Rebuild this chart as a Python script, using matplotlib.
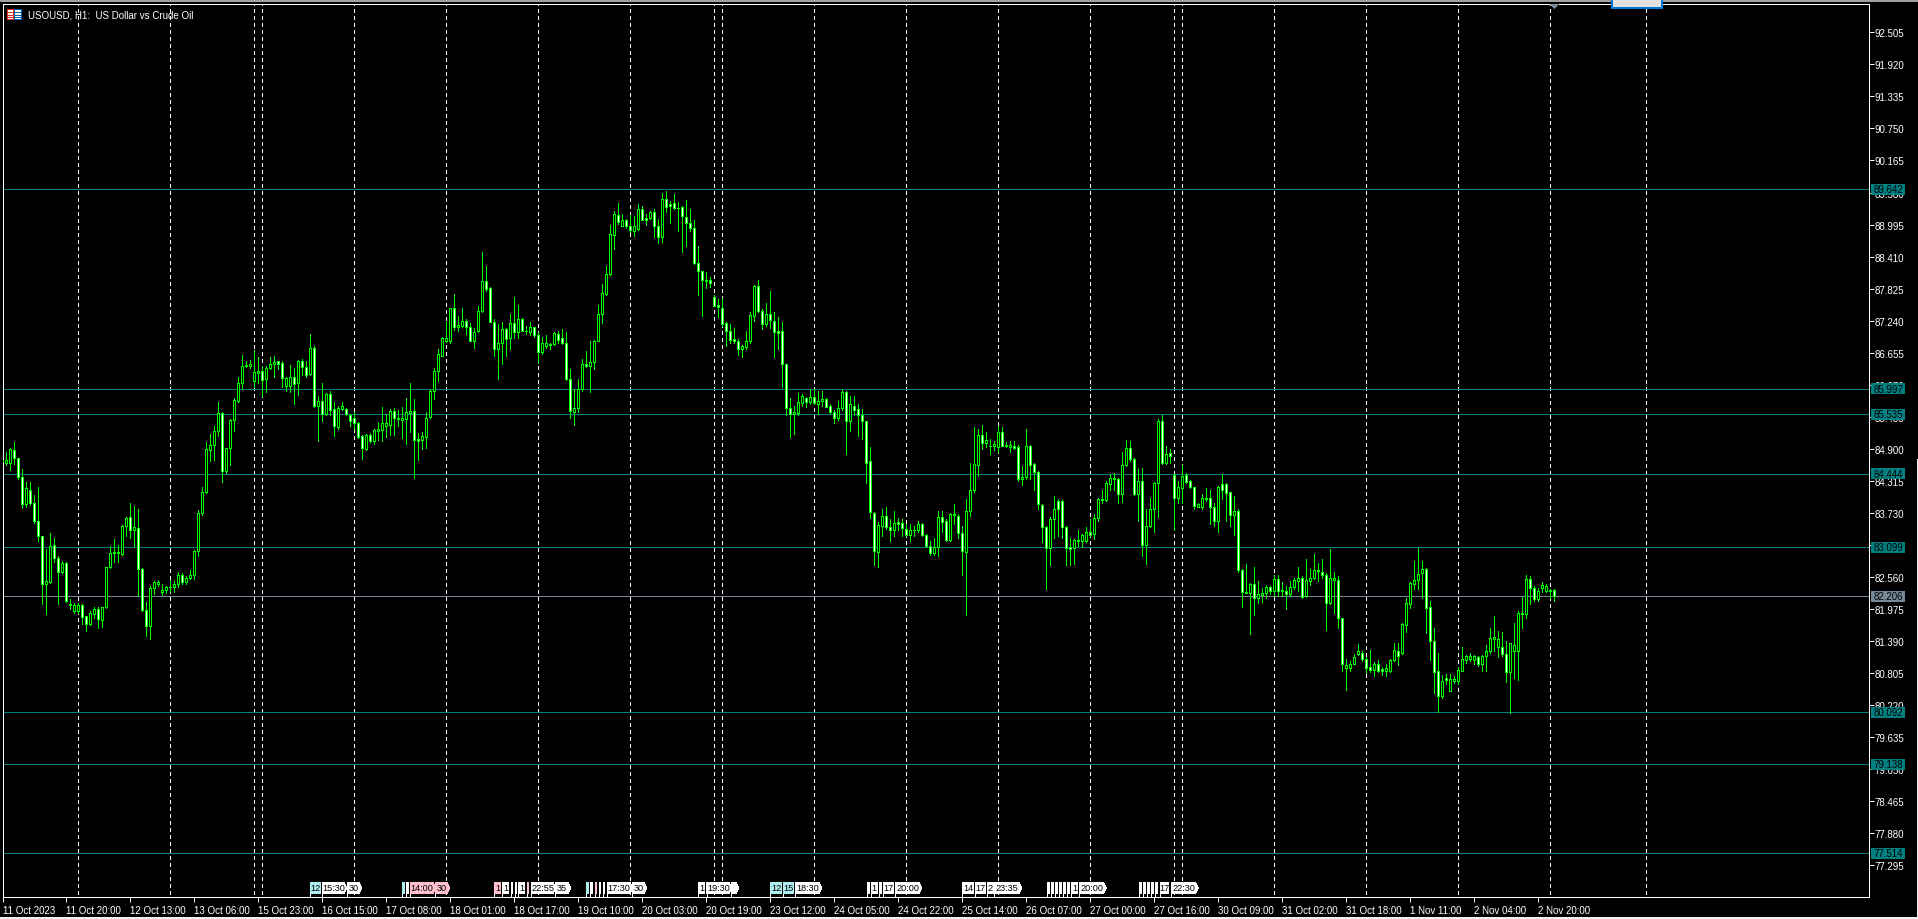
import numpy as np
import matplotlib
matplotlib.use("Agg")
import matplotlib.pyplot as plt
from matplotlib.patches import Polygon, Rectangle
from matplotlib.transforms import Affine2D

plt.rcParams['font.family'] = ['Liberation Sans', 'DejaVu Sans']

W, H = 1918, 920

# hourly candles (first bar is 11 Oct 2023)
opens = [
    84.67, 84.64, 84.65, 84.88, 84.73, 84.38, 83.90, 84.15, 83.92, 83.59,
    83.30, 82.43, 82.47, 83.15, 82.90, 82.66, 82.81, 82.07, 81.93, 81.93,
    82.05, 81.84, 81.70, 81.88, 81.98, 81.78, 82.01, 82.74, 82.99, 83.01,
    82.98, 83.49, 83.65, 83.41, 83.45, 82.71, 81.95, 81.67, 82.35, 82.43,
    82.28, 82.33, 82.37, 82.38, 82.43, 82.60, 82.46, 82.55, 82.60, 83.03,
    83.72, 84.12, 84.88, 84.97, 85.23, 85.55, 84.50, 84.91, 85.43, 85.78,
    86.11, 86.41, 86.42, 86.13, 86.29, 86.32, 86.18, 86.37, 86.44, 86.50,
    86.46, 86.04, 86.04, 86.22, 86.10, 86.50, 86.39, 86.27, 86.75, 85.69,
    85.77, 85.54, 85.90, 85.62, 85.29, 85.62, 85.62, 85.52, 85.47, 85.38,
    85.13, 84.90, 85.15, 85.05, 85.23, 85.25, 85.32, 85.34, 85.59, 85.47,
    85.43, 85.44, 85.55, 85.59, 85.08, 85.07, 85.12, 85.49, 85.95, 86.33,
    86.60, 86.87, 86.86, 87.48, 87.13, 87.15, 87.24, 87.12, 86.87, 87.05,
    87.42, 87.96, 87.83, 87.22, 86.72, 86.83, 87.09, 86.92, 87.19, 87.03,
    87.27, 87.06, 87.04, 87.12, 86.97, 86.66, 86.78, 86.80, 86.81, 87.00,
    86.92, 86.84, 86.17, 85.57, 85.65, 86.00, 86.44, 86.41, 86.48, 86.87,
    87.36, 87.73, 88.09, 88.81, 89.17, 88.97, 89.08, 88.96, 88.88, 88.91,
    89.27, 89.11, 89.11, 89.22, 88.96, 88.77, 89.47, 89.37, 89.38, 89.30,
    89.31, 89.14, 89.02, 88.94, 88.29, 88.14, 87.98, 87.98, 87.68, 87.53,
    87.48, 87.19, 87.05, 86.91, 86.87, 86.73, 86.76, 86.86, 87.33, 87.87,
    87.42, 87.17, 87.37, 87.24, 87.05, 87.05, 86.44, 85.64, 85.54, 85.55,
    85.74, 85.82, 85.75, 85.84, 85.72, 85.77, 85.81, 85.69, 85.58, 85.46,
    85.64, 85.93, 85.41, 85.69, 85.62, 85.52, 85.40, 84.67, 83.73, 83.01,
    83.50, 83.68, 83.47, 83.41, 83.57, 83.54, 83.44, 83.33, 83.41, 83.41,
    83.52, 83.33, 83.13, 83.00, 83.11, 83.65, 83.58, 83.24, 83.71, 83.68,
    83.36, 83.02, 83.77, 84.14, 84.61, 85.16, 85.01, 84.96, 84.95, 84.93,
    85.20, 84.97, 84.94, 84.96, 84.93, 84.35, 84.39, 84.96, 84.62, 84.48,
    83.88, 83.47, 83.09, 83.62, 83.95, 83.94, 83.47, 83.10, 83.09, 83.24,
    83.22, 83.22, 83.38, 83.35, 83.63, 83.97, 83.97, 84.26, 84.36, 84.34,
    84.08, 84.61, 84.91, 84.71, 84.08, 84.31, 83.14, 83.49, 83.81, 84.27,
    85.40, 84.64, 84.82, 84.42, 84.00, 84.18, 84.42, 84.31, 84.20, 83.84,
    83.84, 83.98, 84.00, 83.83, 83.59, 84.25, 84.25, 84.11, 83.70, 83.76,
    82.69, 82.29, 82.27, 82.43, 82.17, 82.23, 82.27, 82.37, 82.31, 82.52,
    82.32, 82.31, 82.25, 82.38, 82.49, 82.55, 82.21, 82.49, 82.54, 82.67,
    82.66, 82.60, 82.09, 82.51, 82.50, 81.81, 80.90, 80.89, 80.97, 81.16,
    81.18, 81.07, 80.91, 80.86, 80.97, 80.88, 80.85, 80.85, 81.05, 81.20,
    81.17, 81.69, 82.07, 82.44, 82.51, 82.63, 82.70, 82.01, 81.40, 80.84,
    80.38, 80.71, 80.48, 80.66, 80.67, 80.85, 81.05, 81.06, 81.05, 81.09,
    80.97, 81.11, 81.20, 81.42, 81.29, 81.29, 81.16, 80.83, 81.21, 81.21,
    81.88, 81.88, 82.52, 82.36, 82.15, 82.36, 82.31, 82.32, 82.32,
]
closes = [
    84.69, 84.69, 84.90, 84.73, 84.38, 83.90, 84.18, 83.92, 83.59, 83.30,
    82.43, 82.49, 83.13, 82.90, 82.66, 82.81, 82.13, 82.04, 82.05, 82.05,
    81.83, 81.71, 81.90, 81.98, 81.79, 82.01, 82.74, 82.99, 83.01, 82.99,
    83.49, 83.63, 83.41, 83.47, 82.71, 81.95, 81.67, 82.35, 82.46, 82.46,
    82.33, 82.37, 82.38, 82.43, 82.60, 82.46, 82.55, 82.60, 83.03, 83.72,
    84.12, 84.89, 84.97, 85.23, 85.55, 84.49, 84.91, 85.43, 85.79, 86.11,
    86.41, 86.43, 86.44, 86.30, 86.32, 86.16, 86.37, 86.44, 86.48, 86.44,
    86.19, 86.19, 86.21, 86.08, 86.50, 86.40, 86.25, 86.75, 85.69, 85.77,
    85.54, 85.90, 85.60, 85.31, 85.64, 85.69, 85.53, 85.41, 85.37, 85.12,
    84.91, 85.15, 85.05, 85.24, 85.26, 85.38, 85.38, 85.59, 85.47, 85.44,
    85.47, 85.57, 85.59, 85.07, 85.05, 85.13, 85.47, 85.96, 86.32, 86.64,
    86.92, 86.92, 87.48, 87.13, 87.16, 87.24, 87.12, 86.87, 87.04, 87.42,
    87.96, 87.82, 87.22, 86.73, 86.83, 87.09, 86.90, 87.19, 87.03, 87.27,
    87.06, 87.05, 87.12, 86.97, 86.66, 86.83, 86.83, 86.81, 87.01, 86.89,
    86.84, 86.17, 85.59, 85.64, 86.00, 86.44, 86.41, 86.49, 86.87, 87.36,
    87.74, 88.10, 88.82, 89.18, 89.04, 89.07, 88.96, 88.90, 88.97, 89.27,
    89.08, 89.08, 89.22, 88.96, 88.77, 89.47, 89.32, 89.34, 89.29, 89.29,
    89.16, 89.02, 88.94, 88.29, 88.14, 87.98, 87.97, 87.93, 87.51, 87.49,
    87.18, 87.05, 86.89, 86.87, 86.73, 86.77, 86.87, 87.34, 87.87, 87.42,
    87.17, 87.37, 87.26, 87.03, 87.02, 86.44, 85.64, 85.54, 85.57, 85.75,
    85.87, 85.75, 85.84, 85.74, 85.78, 85.81, 85.67, 85.57, 85.46, 85.64,
    85.93, 85.41, 85.71, 85.61, 85.52, 85.40, 84.65, 83.74, 83.03, 83.51,
    83.68, 83.47, 83.41, 83.54, 83.52, 83.45, 83.33, 83.41, 83.42, 83.52,
    83.33, 83.13, 83.00, 83.11, 83.65, 83.57, 83.24, 83.71, 83.69, 83.36,
    83.04, 83.76, 84.15, 84.62, 85.15, 85.01, 85.06, 84.95, 84.99, 85.20,
    84.96, 84.95, 84.97, 84.92, 84.35, 84.39, 84.96, 84.61, 84.48, 83.89,
    83.47, 83.09, 83.62, 83.81, 83.81, 83.47, 83.09, 83.08, 83.24, 83.22,
    83.33, 83.38, 83.33, 83.63, 83.98, 83.98, 84.27, 84.36, 84.34, 84.08,
    84.61, 84.91, 84.71, 84.08, 84.31, 83.14, 83.49, 83.81, 84.27, 85.40,
    84.64, 84.81, 84.76, 84.00, 84.20, 84.40, 84.30, 84.20, 83.85, 83.89,
    84.00, 84.00, 83.83, 83.59, 84.20, 84.15, 84.09, 83.70, 83.76, 82.69,
    82.28, 82.27, 82.43, 82.18, 82.25, 82.26, 82.38, 82.30, 82.52, 82.31,
    82.30, 82.25, 82.37, 82.50, 82.55, 82.19, 82.50, 82.55, 82.68, 82.68,
    82.60, 82.09, 82.55, 82.55, 81.81, 80.97, 80.96, 80.98, 81.09, 81.20,
    81.06, 80.90, 80.86, 80.97, 80.85, 80.85, 80.89, 81.05, 81.22, 81.12,
    81.70, 82.09, 82.45, 82.51, 82.61, 82.70, 82.00, 81.40, 80.83, 80.38,
    80.67, 80.68, 80.69, 80.70, 80.86, 81.06, 81.11, 81.11, 81.11, 80.97,
    81.11, 81.20, 81.44, 81.47, 81.42, 81.15, 80.83, 81.35, 81.32, 81.91,
    81.91, 82.52, 82.35, 82.15, 82.30, 82.41, 82.39, 82.31, 82.21,
]
highs = [
    84.69, 84.84, 84.91, 85.02, 84.74, 84.53, 84.30, 84.29, 84.05, 84.20,
    83.31, 83.07, 83.36, 83.28, 82.95, 82.86, 82.83, 82.16, 82.08, 82.08,
    82.07, 81.85, 81.93, 82.01, 82.01, 82.02, 82.75, 83.12, 83.25, 83.14,
    83.51, 83.65, 83.92, 83.86, 83.81, 82.72, 82.10, 82.40, 82.48, 82.51,
    82.43, 82.40, 82.51, 82.49, 82.65, 82.63, 82.58, 82.69, 83.05, 83.78,
    84.20, 85.02, 85.17, 85.31, 85.75, 85.57, 84.91, 85.44, 85.83, 86.21,
    86.61, 86.51, 86.53, 86.70, 86.57, 86.42, 86.42, 86.57, 86.59, 86.51,
    86.51, 86.21, 86.43, 86.37, 86.53, 86.54, 86.51, 87.00, 86.77, 85.87,
    86.10, 85.92, 85.96, 85.75, 85.69, 85.76, 85.64, 85.54, 85.57, 85.39,
    85.16, 85.17, 85.18, 85.26, 85.39, 85.66, 85.54, 85.63, 85.64, 85.60,
    85.66, 85.82, 86.10, 85.81, 85.18, 85.20, 85.57, 85.99, 86.37, 86.73,
    86.95, 87.22, 87.48, 87.73, 87.33, 87.47, 87.27, 87.19, 87.10, 87.51,
    88.49, 88.23, 87.85, 87.27, 87.18, 87.21, 87.10, 87.36, 87.67, 87.53,
    87.29, 87.15, 87.21, 87.13, 87.03, 86.94, 86.97, 86.84, 87.03, 87.06,
    87.09, 87.03, 86.36, 86.00, 86.17, 86.54, 86.69, 86.87, 86.89, 87.53,
    87.91, 88.23, 88.99, 89.25, 89.39, 89.18, 89.10, 89.19, 89.16, 89.37,
    89.34, 89.19, 89.25, 89.27, 89.10, 89.58, 89.60, 89.43, 89.55, 89.40,
    89.34, 89.44, 89.28, 89.07, 88.60, 88.15, 88.12, 88.03, 87.70, 87.64,
    87.65, 87.21, 87.18, 87.10, 86.91, 86.80, 87.05, 87.40, 87.89, 87.98,
    87.45, 87.56, 87.79, 87.40, 87.31, 87.22, 86.45, 85.82, 85.69, 85.92,
    85.90, 85.84, 85.99, 85.99, 85.96, 85.95, 85.82, 85.72, 85.60, 85.78,
    85.99, 85.96, 85.87, 85.86, 85.72, 85.63, 85.41, 84.93, 83.74, 83.56,
    83.81, 83.83, 83.62, 83.76, 83.63, 83.62, 83.53, 83.53, 83.50, 83.58,
    83.54, 83.35, 83.22, 83.28, 83.77, 83.77, 83.62, 83.72, 83.90, 83.71,
    83.49, 83.98, 84.64, 85.30, 85.27, 85.33, 85.20, 85.08, 85.04, 85.32,
    85.29, 85.02, 85.05, 85.05, 84.97, 84.59, 85.26, 84.97, 84.65, 84.50,
    83.89, 83.50, 83.65, 84.03, 83.98, 83.97, 83.49, 83.28, 83.25, 83.41,
    83.35, 83.47, 83.62, 83.71, 84.01, 84.14, 84.32, 84.44, 84.46, 84.36,
    84.84, 85.07, 85.05, 84.73, 84.53, 84.55, 83.80, 84.01, 84.29, 85.44,
    85.52, 84.96, 84.90, 84.44, 84.31, 84.61, 84.45, 84.33, 84.21, 83.92,
    84.08, 84.18, 84.15, 83.92, 84.22, 84.44, 84.28, 84.12, 84.03, 83.81,
    82.71, 82.80, 82.45, 82.75, 82.49, 82.35, 82.41, 82.40, 82.60, 82.60,
    82.46, 82.40, 82.49, 82.55, 82.74, 82.58, 82.88, 82.71, 82.98, 82.82,
    82.89, 82.63, 83.07, 82.65, 82.58, 81.82, 81.06, 81.03, 81.15, 81.34,
    81.21, 81.09, 81.23, 81.01, 81.04, 80.92, 80.97, 81.06, 81.35, 81.35,
    81.72, 82.17, 82.46, 82.85, 83.09, 82.85, 82.72, 82.13, 81.63, 81.17,
    80.77, 80.79, 80.79, 80.76, 80.91, 81.29, 81.14, 81.18, 81.14, 81.12,
    81.14, 81.32, 81.62, 81.84, 81.58, 81.55, 81.39, 81.36, 81.72, 81.93,
    82.20, 82.60, 82.57, 82.40, 82.35, 82.46, 82.43, 82.34, 82.34,
]
lows = [
    84.67, 84.61, 84.52, 84.62, 84.35, 83.82, 83.84, 83.87, 83.54, 83.21,
    82.07, 81.88, 82.45, 82.84, 82.07, 82.63, 82.11, 81.98, 81.91, 81.90,
    81.70, 81.58, 81.68, 81.82, 81.63, 81.65, 81.99, 82.72, 82.83, 82.83,
    82.97, 83.30, 83.27, 83.13, 82.22, 81.93, 81.49, 81.43, 82.25, 82.39,
    82.24, 82.27, 82.28, 82.28, 82.37, 82.43, 82.44, 82.52, 82.52, 82.95,
    83.70, 84.09, 84.67, 84.70, 85.14, 84.30, 84.46, 84.61, 85.23, 85.75,
    86.00, 86.39, 86.38, 86.02, 86.11, 85.87, 85.94, 86.36, 86.21, 86.36,
    86.02, 85.96, 85.94, 85.71, 85.89, 86.24, 86.21, 86.25, 85.67, 85.05,
    85.40, 85.52, 85.52, 85.14, 85.27, 85.60, 85.52, 85.32, 85.26, 85.10,
    84.71, 84.88, 85.03, 84.99, 85.07, 85.05, 85.12, 85.15, 85.15, 85.32,
    85.10, 84.99, 85.20, 84.37, 84.70, 84.90, 84.91, 85.47, 85.81, 86.13,
    86.59, 86.85, 86.84, 87.07, 87.06, 87.12, 87.00, 86.86, 86.74, 87.04,
    87.40, 87.79, 87.21, 86.60, 86.17, 86.44, 86.60, 86.73, 86.93, 86.92,
    87.05, 87.00, 86.98, 86.95, 86.46, 86.63, 86.75, 86.72, 86.80, 86.84,
    86.81, 86.16, 85.46, 85.33, 85.57, 85.96, 86.39, 85.94, 86.36, 86.86,
    87.20, 87.71, 88.07, 88.55, 89.01, 88.96, 88.93, 88.85, 88.79, 88.90,
    89.07, 88.99, 89.10, 88.76, 88.66, 88.68, 89.23, 89.02, 89.27, 88.88,
    88.50, 88.61, 88.88, 88.27, 87.70, 87.33, 87.83, 87.85, 87.50, 87.30,
    87.15, 86.78, 86.84, 86.84, 86.61, 86.57, 86.73, 86.84, 87.24, 87.39,
    87.09, 87.15, 87.10, 86.57, 86.72, 86.02, 85.51, 85.12, 85.17, 85.51,
    85.69, 85.67, 85.72, 85.71, 85.54, 85.68, 85.66, 85.55, 85.37, 85.43,
    85.60, 84.81, 85.23, 85.51, 85.14, 85.08, 84.28, 83.64, 82.77, 82.75,
    83.31, 83.44, 83.22, 83.30, 83.42, 83.31, 83.31, 83.22, 83.30, 83.38,
    83.31, 83.10, 82.97, 82.96, 82.95, 83.38, 83.22, 83.22, 83.53, 83.28,
    82.60, 81.87, 83.68, 84.11, 84.41, 84.90, 84.93, 84.81, 84.87, 84.84,
    84.95, 84.93, 84.85, 84.90, 84.32, 84.24, 84.35, 84.35, 84.14, 83.80,
    83.19, 82.34, 82.78, 83.27, 83.31, 83.27, 82.78, 82.77, 82.80, 83.13,
    83.10, 83.19, 83.31, 83.25, 83.59, 83.92, 83.95, 84.14, 84.14, 83.92,
    83.93, 84.58, 84.68, 84.05, 83.59, 82.95, 82.80, 83.47, 83.38, 83.65,
    84.62, 84.62, 84.65, 83.42, 83.91, 83.92, 84.28, 84.18, 83.81, 83.83,
    83.80, 83.95, 83.53, 83.50, 83.39, 83.98, 83.59, 83.50, 83.33, 82.65,
    82.02, 82.27, 81.52, 81.87, 82.08, 82.10, 82.18, 82.25, 82.22, 82.22,
    82.22, 81.98, 82.21, 82.34, 82.31, 82.18, 82.19, 82.41, 82.52, 82.49,
    82.55, 81.59, 82.07, 81.91, 81.63, 80.85, 80.49, 80.85, 80.97, 81.14,
    81.03, 80.81, 80.83, 80.76, 80.82, 80.77, 80.76, 80.82, 81.03, 80.96,
    81.15, 81.56, 82.00, 82.34, 82.34, 82.18, 81.54, 81.04, 80.45, 80.09,
    80.35, 80.61, 80.47, 80.62, 80.61, 80.84, 80.99, 81.03, 80.97, 80.94,
    80.85, 80.85, 81.18, 81.21, 81.09, 81.12, 80.65, 80.07, 80.71, 80.68,
    81.62, 81.81, 82.07, 82.13, 82.13, 82.29, 82.28, 82.18, 82.13,
]

# horizontal levels drawn on the chart and the current bid
levels = [89.642, 85.997, 85.535, 84.444, 83.099, 80.092, 79.138, 77.514]
bid = 82.206

# bars with a vertical event line
event_bars = [18, 41, 62, 64, 87, 110, 133, 156, 177, 179, 202, 225, 248,
              271, 292, 294, 317, 340, 363, 386, 410]

price_ticks = [92.505, 91.920, 91.335, 90.750, 90.165, 89.580, 88.995, 88.410,
               87.825, 87.240, 86.655, 86.070, 85.485, 84.900, 84.315, 83.730,
               83.145, 82.560, 81.975, 81.390, 80.805, 80.220, 79.635, 79.050,
               78.465, 77.880, 77.295]

time_labels = ['11 Oct 2023', '11 Oct 20:00', '12 Oct 13:00', '13 Oct 06:00',
               '15 Oct 23:00', '16 Oct 15:00', '17 Oct 08:00', '18 Oct 01:00',
               '18 Oct 17:00', '19 Oct 10:00', '20 Oct 03:00', '20 Oct 19:00',
               '23 Oct 12:00', '24 Oct 05:00', '24 Oct 22:00', '25 Oct 14:00',
               '26 Oct 07:00', '27 Oct 00:00', '27 Oct 16:00', '30 Oct 09:00',
               '31 Oct 02:00', '31 Oct 18:00', '1 Nov 11:00', '2 Nov 04:00',
               '2 Nov 20:00']

opens = np.array(opens)
closes = np.array(closes)
highs = np.array(highs)
lows = np.array(lows)
xs = np.arange(len(closes)) - 1
down = closes < opens

GREEN = '#00ff00'
TEAL = '#008080'
SLATE = '#778899'
CYAN = '#aeeeee'
PINK = '#ffc0cb'
PX = 0.72  # one pixel in points at dpi 100

fig = plt.figure(figsize=(W / 100, H / 100), dpi=100, facecolor='black')
ax = fig.add_axes([2.5 / W, 1 - 898 / H, (1868.5 - 2.5) / W, (898 - 4.5) / H], facecolor='black')

# 4 pixels per bar, 54.77 pixels per price unit
ax.set_xlim(-0.875, (1868.5 - 6) / 4)
ax.set_ylim(92.505 - (898 - 33.3) / 54.77, 92.505 + (33.3 - 4.5) / 54.77)

for s in ax.spines.values():
    s.set_color('white')
    s.set_linewidth(PX)

ax.vlines(event_bars, ax.get_ylim()[0] + 0.05, ax.get_ylim()[1], colors='white', linewidth=PX,
          linestyles=(0, (3, 3)), antialiased=False, zorder=1)
ax.hlines(levels, -1, 466, colors=TEAL, linewidth=PX, antialiased=False, zorder=2)
ax.hlines(bid, -1, 466, colors=SLATE, linewidth=PX, antialiased=False, zorder=2)

ax.vlines(xs, lows, highs, colors=GREEN, linewidth=PX, antialiased=False, zorder=3)
body_low = np.minimum(opens, closes)
body_h = np.abs(closes - opens)
ax.bar(xs[~down], body_h[~down], bottom=body_low[~down], width=0.5, facecolor='black',
       edgecolor=GREEN, linewidth=PX, antialiased=False, zorder=4)
ax.bar(xs[down], body_h[down], bottom=body_low[down], width=0.5, facecolor='white',
       edgecolor=GREEN, linewidth=PX, antialiased=False, zorder=4)

ax.set_xticks(np.arange(len(time_labels)) * 16 - 1)
ax.set_xticklabels(time_labels, ha='left')
ax.set_yticks(price_ticks)
ax.set_yticklabels([f'{p:.3f}' for p in price_ticks])
ax.yaxis.tick_right()
ax.tick_params(axis='x', colors='white', length=3.5, width=PX, labelsize=7, pad=2)
ax.tick_params(axis='y', colors='white', length=3.5, width=PX, labelsize=7, pad=1)

# everything below is placed in screen pixels, y going down
to_fig = Affine2D().scale(1 / W, -1 / H).translate(0, 1) + fig.transFigure


def box(x0, y0, x1, y1, color, z=5):
    fig.add_artist(Rectangle((x0, y0), x1 - x0, y1 - y0, transform=to_fig, facecolor=color,
                             edgecolor='none', antialiased=False, zorder=z))


def tag(x0, x1, text, color, pointed=False, z=6):
    top, bottom = 883, 895
    if pointed:
        pts = [(x0, top), (x1 - 3, top), (x1, 889), (x1 - 3, bottom), (x0, bottom)]
    else:
        pts = [(x0, top), (x1, top), (x1, bottom), (x0, bottom)]
    fig.add_artist(Polygon(pts, closed=True, transform=to_fig, facecolor=color, edgecolor='none',
                           antialiased=False, zorder=z))
    box(x0, bottom, x0 + 1, 898, 'white', z)
    if text:
        mid = (x0 + x1 - (2 if pointed else 0)) / 2
        fig.text(mid, 889, text, transform=to_fig, color='black', fontsize=6.6, ha='center', va='center',
                 zorder=z + 0.5)


# level price boxes on the right axis
for lv in levels + [bid]:
    yp = 33.3 + (92.505 - lv) * 54.77
    col = SLATE if lv == bid else TEAL
    box(1871, yp - 5.5, 1905, yp + 5.5, col)
    fig.text(1888, yp, f'{lv:.3f}', transform=to_fig, color='black', fontsize=7, ha='center',
             va='center', zorder=6)

# calendar event tags along the bottom of the chart
tag(347, 362, '30', 'white', True)
tag(322, 347, '15:30', 'white', True, 7)
tag(310, 321, '12', CYAN)
tag(435, 450, '30', PINK, True)
tag(410, 436, '14:00', PINK, True, 7)
tag(402, 405, '', CYAN)
tag(406, 409, '', 'white')
tag(494, 501, '1', PINK)
tag(502, 509, '1', 'white')
tag(511, 513, '', 'white')
tag(515, 517, '', 'white')
tag(518, 525, '1', 'white')
tag(527, 529, '', PINK)
tag(555, 571, '35', 'white', True)
tag(531, 556, '22:55', 'white', True, 7)
tag(586, 589, '', CYAN)
tag(590, 593, '', 'white')
tag(595, 597, '', PINK)
tag(599, 601, '', 'white')
tag(603, 605, '', 'white')
tag(632, 647, '30', 'white', True)
tag(607, 633, '17:30', 'white', True, 7)
tag(698, 705, '1', 'white')
tag(731, 739, '', 'white', True)
tag(706.5, 732, '19:30', 'white', True, 7)
tag(770, 782, '12', CYAN)
tag(782.5, 794, '15', CYAN)
tag(795, 822, '18:30', 'white', True)
tag(866.5, 869.5, '', 'white')
tag(870.6, 878, '1', 'white')
tag(879, 881.6, '', 'white')
tag(883, 894, '17', 'white')
tag(895, 922, '20:00', 'white', True)
tag(962, 974, '14', 'white')
tag(975, 986, '17', 'white')
tag(987, 993.5, '2', 'white')
tag(994, 1022, '23:35', 'white', True)
for x0 in [1047, 1051, 1055, 1059, 1063, 1067, 1139, 1143, 1147, 1151, 1155]:
    tag(x0, x0 + 2.5, '', 'white')
tag(1071, 1078, '1', 'white')
tag(1079, 1106.5, '20:00', 'white', True)
tag(1159.5, 1169, '17', 'white')
tag(1171, 1198.5, '22:30', 'white', True)

# window chrome: top strip, bottom strip, right edge, hidden popup, bid marker
box(0, 0, W, 2.5, '#a0a0a0', 8)
box(0, 918, W, H, '#f0f0f0', 8)
box(1917, 460, W, H, '#f0f0f0', 8)
box(1611, 0, 1663, 10, '#0078d7', 9)
box(1613, 0, 1661, 7.5, '#e1e1e1', 10)
fig.add_artist(Polygon([(1550, 5), (1559, 5), (1554.5, 9.5)], closed=True, transform=to_fig,
                       facecolor=SLATE, edgecolor='none', antialiased=False, zorder=6))

# symbol icon and title
box(7, 10, 14, 21, '#e03020')
box(8, 11, 13, 20, 'white')
box(14, 10, 22, 21, '#0060b0')
box(15, 11, 21, 20, 'white')
for yb in [13, 15.5, 18]:
    box(8, yb, 13, yb + 1, '#e03020')
    box(15, yb, 21, yb + 1, '#0060b0')
fig.text(27.5, 15.5, 'USOUSD, H1:  US Dollar vs Crude Oil', transform=to_fig, color='white', fontsize=7,
         ha='left', va='center', zorder=6)

fig.savefig('out.png', dpi=100, facecolor='black')
